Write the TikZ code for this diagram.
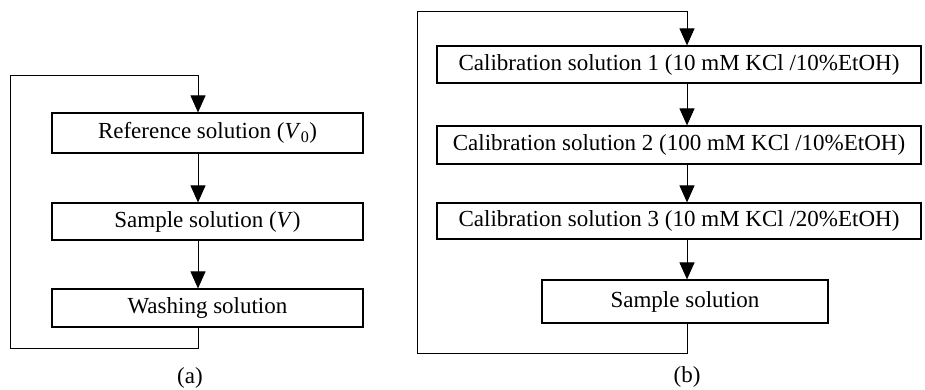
\documentclass[tikz,border=0pt]{standalone}
\usepackage{fontspec}
\setmainfont{Liberation Serif}
\usetikzlibrary{arrows.meta,positioning,calc}

\begin{document}
\begin{tikzpicture}[x=1pt,y=-1pt,
	box/.style={draw,line width=1.2pt,inner sep=0pt,font=\fontsize{23}{27}\selectfont},
	flow/.style={line width=1pt,-{Triangle[width=15pt,length=17pt]}},
	tag/.style={font=\fontsize{23}{27}\selectfont}]
	\useasboundingbox (0,0) rectangle (925,390);
	% (a)
	\coordinate (acol) at (198,0);
	\node[box,minimum width=311pt,minimum height=40pt] (ref) at (207.5,133) {Reference solution (\textit{V}\textsubscript{0})};
	\node[box,minimum width=311pt,minimum height=37pt] (smp) at (207.5,221.5) {Sample solution (\textit{V})};
	\node[box,minimum width=311pt,minimum height=38pt] (wash) at (207.5,308) {Washing solution};
	\coordinate (abl) at (10,348);
	\coordinate (atl) at (10,76);
	\draw[flow] (ref.south -| acol) -- (smp.north -| acol);
	\draw[flow] (smp.south -| acol) -- (wash.north -| acol);
	\draw[flow] (wash.south -| acol) |- (abl) -- (atl) -| (ref.north -| acol);
	\node[tag] (capa) at (190,378) {(a)};
	% (b)
	\coordinate (bcol) at (687,0);
	\node[box,minimum width=484pt,minimum height=37pt] (cal1) at (679,64.5) {Calibration solution 1 (10 mM KCl /10\%EtOH)};
	\node[box,minimum width=484pt,minimum height=38pt] (cal2) at (679,145) {Calibration solution 2 (100 mM KCl /10\%EtOH)};
	\node[box,minimum width=484pt,minimum height=36pt] (cal3) at (679,221) {Calibration solution 3 (10 mM KCl /20\%EtOH)};
	\node[box,minimum width=286pt,minimum height=43pt] (samp) at (685,301.5) {Sample solution};
	\coordinate (bbl) at (417,353);
	\coordinate (btl) at (417,12);
	\draw[flow] (cal1.south -| bcol) -- (cal2.north -| bcol);
	\draw[flow] (cal2.south -| bcol) -- (cal3.north -| bcol);
	\draw[flow] (cal3.south -| bcol) -- (samp.north -| bcol);
	\draw[flow] (samp.south -| bcol) |- (bbl) -- (btl) -| (cal1.north -| bcol);
	\node[tag] (capb) at (687,377) {(b)};
\end{tikzpicture}
\end{document}
